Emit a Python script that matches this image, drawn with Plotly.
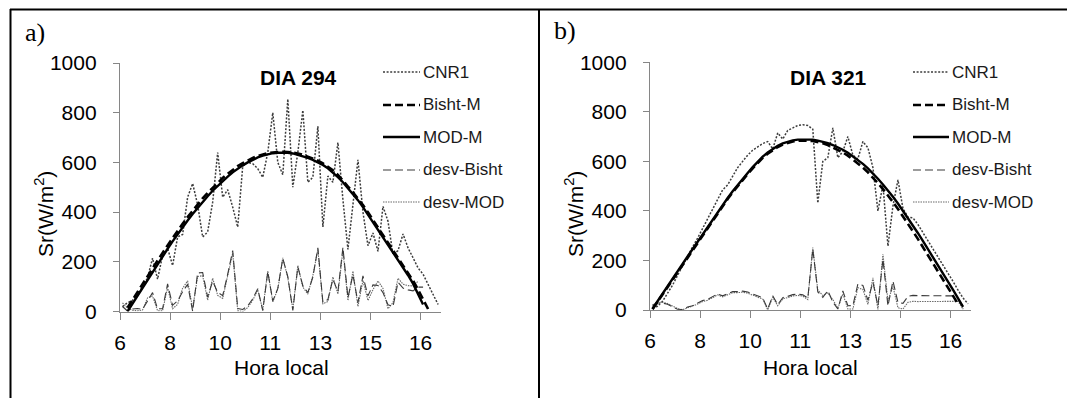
import plotly.graph_objects as go

W, H = 1067, 398

# ---------------- data ----------------
hour_ticks = ["6", "8", "10", "11", "13", "15", "16"]
tick_pos = [0, 10, 20, 30, 40, 50, 60]          # category boundaries (every 10 samples)
y_ticks = [0, 200, 400, 600, 800, 1000]

# Panel a) DIA 294  (one value per 10-min category)
cnr1_a = [20, 35, 45, 70, 100, 135, 215, 130, 225, 255,
          185, 300, 310, 460, 515, 430, 300, 320, 440, 640,
          460, 490, 420, 340, 585, 600, 595, 575, 540, 640,
          800, 600, 550, 855, 500, 640, 810, 520, 540, 745,
          340, 545, 520, 680, 450, 250, 430, 610, 400, 265,
          316, 242, 423, 363, 229, 245, 312, 256, 216, 175,
          150, 108, 70, 28]
bisht_a = [None, 15, 47, 80, 112, 144, 175, 206, 236, 266,
           296, 325, 353, 380, 406, 431, 455, 477, 498, 518,
           537, 554, 570, 585, 597, 608, 618, 626, 632, 637,
           640, 642, 643, 642, 640, 636, 631, 624, 616, 607,
           596, 583, 568, 550, 525, 503, 480, 455, 428, 399,
           369, 339, 309, 279, 249, 219, 188, 157, 124, 88,
           50, 10]
mod_a = [None, 0, 32, 65, 97, 129, 160, 192, 222, 252,
         282, 311, 339, 366, 392, 417, 441, 464, 486, 506,
         525, 543, 560, 575, 588, 600, 611, 620, 627, 633,
         637, 639, 640, 639, 636, 631, 625, 618, 610, 600,
         590, 576, 560, 541, 520, 497, 474, 448, 420, 390,
         360, 330, 300, 270, 240, 209, 178, 146, 112, 72,
         28]
desv_bisht_a = [20, 2, 10, 12, 9, 40, 76, 11, 11, 111,
                25, 43, 80, 109, 1, 155, 157, 58, 122, 77,
                64, 150, 245, 12, 8, 23, 51, 92, 3, 160,
                42, 93, 213, 140, 4, 179, 104, 76, 138, 256,
                38, 48, 130, 80, 258, 56, 148, 36, 143, 63,
                107, 105, 76, 27, 20, 118, 94, 87, 83, 98,
                98]
desv_mod_a = [35, 13, 5, 3, 6, 55, 62, 3, 3, 97,
              11, 29, 94, 123, 13, 141, 144, 46, 134, 65,
              53, 140, 235, 3, 0, 16, 45, 87, 7, 163,
              39, 90, 216, 136, 9, 185, 98, 70, 145, 250,
              31, 40, 139, 70, 247, 44, 162, 20, 125, 44,
              88, 123, 93, 11, 36, 134, 110, 104, 103, 122]

# Panel b) DIA 321
cnr1_b = [8, 15, 35, 65, 100, 140, 180, 215, 255, 290,
          330, 370, 405, 445, 485, 505, 540, 575, 600, 625,
          645, 660, 672, 680, 650, 715, 690, 725, 735, 745,
          748, 745, 730, 432, 600, 615, 735, 615, 640, 700,
          625, 610, 680, 655, 575, 400, 505, 258, 420, 525,
          410, 375, 372, 345, 312, 280, 248, 216, 183, 150,
          115, 80, 48, 25]
bisht_b = [3, 33, 63, 93, 123, 153, 183, 213, 243, 273,
           302, 332, 362, 391, 420, 448, 475, 501, 526, 549,
           572, 594, 614, 631, 646, 658, 668, 675, 680, 683,
           684, 684, 682, 678, 673, 666, 657, 647, 636, 623,
           608, 592, 575, 556, 535, 512, 488, 463, 436, 408,
           379, 348, 317, 286, 254, 222, 190, 158, 125, 91,
           57, 23]
mod_b = [5, 36, 66, 96, 126, 156, 186, 216, 246, 276,
         306, 336, 366, 395, 424, 452, 479, 505, 530, 553,
         577, 599, 619, 636, 651, 663, 673, 680, 685, 688,
         689, 689, 688, 684, 680, 674, 666, 657, 647, 635,
         621, 606, 590, 572, 552, 530, 507, 483, 457, 430,
         401, 371, 341, 310, 278, 246, 214, 182, 149, 115,
         81, 47, 13]
desv_bisht_b = [18, 28, 28, 23, 13, 3, 2, 12, 17, 28,
                38, 43, 54, 65, 57, 65, 74, 74, 76, 73,
                66, 58, 49, 4, 57, 22, 50, 55, 62, 64,
                61, 48, 246, 73, 51, 78, 32, 4, 77, 17,
                18, 105, 99, 40, 112, 17, 205, 16, 117, 31,
                27, 55, 59, 58, 58, 58, 58, 58, 59, 58,
                57, 45, 5]
desv_mod_b = [21, 31, 31, 26, 16, 6, 1, 9, 14, 24,
              34, 39, 50, 61, 53, 61, 70, 70, 72, 68,
              61, 53, 44, 1, 52, 17, 45, 50, 57, 59,
              56, 42, 252, 80, 59, 69, 42, 7, 65, 4,
              4, 90, 83, 23, 130, 2, 225, 37, 95, 9,
              4, 31, 35, 34, 34, 34, 34, 34, 35, 34,
              33, 35, 3]

series_names = ["CNR1", "Bisht-M", "MOD-M", "desv-Bisht", "desv-MOD"]
day_titles = ["DIA 294", "DIA 321"]
panel_labels = ["a)", "b)"]

# ---------------- styles ----------------
STYLE = {
    "CNR1":       dict(color="#3c3c3c", width=1.5, dash="2px,1.6px"),
    "Bisht-M":    dict(color="#000000", width=2.6, dash="8px,4px"),
    "MOD-M":      dict(color="#000000", width=2.4, dash="solid"),
    "desv-Bisht": dict(color="#3a3a3a", width=1.1, dash="8px,4px"),
    "desv-MOD":   dict(color="#6a6a6a", width=1.1, dash="1.5px,1px"),
}
FONT = "Liberation Sans, Arial, sans-serif"


def fx(px):
    return px / W


def fy(py):
    return 1 - py / H


def cat_x(vals):
    return [k + 0.5 for k in range(len(vals))]


fig = go.Figure()

panels = [
    dict(cnr1=cnr1_a, bisht=bisht_a, mod=mod_a, db=desv_bisht_a, dm=desv_mod_a,
         xax="x", yax="y", x0=120, x1=440.6, y0=311.5, y1=63,
         title_xy=(298, 77), label_xy=(23, 32), leg_x=(383, 420), xt_xy=(281, 367), yt_xy=(44, 214)),
    dict(cnr1=cnr1_b, bisht=bisht_b, mod=mod_b, db=desv_bisht_b, dm=desv_mod_b,
         xax="x2", yax="y2", x0=650, x1=970.6, y0=310, y1=62.3,
         title_xy=(828, 77), label_xy=(552, 31), leg_x=(913, 949), xt_xy=(810, 367), yt_xy=(574, 214)),
]

annotations = []
shapes = []
leg_y = [72, 105, 137, 170, 202]

for p_i, p in enumerate(panels):
    order = [("desv-MOD", p["dm"]), ("desv-Bisht", p["db"]), ("CNR1", p["cnr1"]),
             ("Bisht-M", p["bisht"]), ("MOD-M", p["mod"])]
    for name, vals in order:
        fig.add_trace(go.Scatter(
            x=cat_x(vals), y=vals, mode="lines", name=name,
            line=STYLE[name], xaxis=p["xax"], yaxis=p["yax"],
            showlegend=False, connectgaps=False, hoverinfo="skip"))

    # manual legend
    for name, ly in zip(series_names, leg_y):
        st = STYLE[name]
        shapes.append(dict(type="line", xref="paper", yref="paper",
                           x0=fx(p["leg_x"][0]), x1=fx(p["leg_x"][1]),
                           y0=fy(ly), y1=fy(ly),
                           line=dict(color=st["color"], width=st["width"], dash=st["dash"])))
        annotations.append(dict(text=name, xref="paper", yref="paper",
                                x=fx(p["leg_x"][1] + 1), y=fy(ly), xanchor="left", yanchor="middle",
                                showarrow=False, font=dict(family=FONT, size=17, color="#1a1a1a")))

    annotations.append(dict(text="<b>" + day_titles[p_i] + "</b>", xref="paper", yref="paper",
                            x=fx(p["title_xy"][0]), y=fy(p["title_xy"][1]),
                            xanchor="center", yanchor="middle", showarrow=False,
                            font=dict(family=FONT, size=21, color="#000000")))
    annotations.append(dict(text=panel_labels[p_i], xref="paper", yref="paper",
                            x=fx(p["label_xy"][0]), y=fy(p["label_xy"][1]),
                            xanchor="left", yanchor="middle", showarrow=False,
                            font=dict(family="Liberation Serif, Times New Roman, serif", size=26, color="#000000")))
    annotations.append(dict(text="Hora local", xref="paper", yref="paper",
                            x=fx(p["xt_xy"][0]), y=fy(p["xt_xy"][1]),
                            xanchor="center", yanchor="middle", showarrow=False,
                            font=dict(family=FONT, size=21, color="#000000")))
    annotations.append(dict(text="Sr(W/m<sup>2</sup>)", xref="paper", yref="paper",
                            x=fx(p["yt_xy"][0]), y=fy(p["yt_xy"][1]), textangle=-90,
                            xanchor="center", yanchor="middle", showarrow=False,
                            font=dict(family=FONT, size=21, color="#000000")))

    axis_common = dict(showline=True, linecolor="#868686", linewidth=1.3, ticks="outside",
                       tickcolor="#868686", tickwidth=1.3, showgrid=False, zeroline=False,
                       automargin=False, title=dict(text=""),
                       tickfont=dict(family=FONT, size=21, color="#000000"), fixedrange=True)
    xkey = "xaxis" if p["xax"] == "x" else "xaxis2"
    ykey = "yaxis" if p["yax"] == "y" else "yaxis2"
    fig.update_layout(**{
        xkey: dict(domain=[fx(p["x0"]), fx(p["x1"])], range=[0, 64], anchor=p["yax"],
                   tickmode="array", tickvals=tick_pos, ticktext=hour_ticks, ticklen=7,
                   ticklabelstandoff=5, **axis_common),
        ykey: dict(domain=[fy(p["y0"]), fy(p["y1"])], range=[0, 1000], anchor=p["xax"],
                   tickmode="array", tickvals=y_ticks, ticklen=6, ticklabelstandoff=12,
                   **axis_common),
    })

# table borders
border = dict(color="#000000", width=2)
shapes += [
    dict(type="line", xref="paper", yref="paper", x0=fx(10), x1=1, y0=fy(9.5), y1=fy(9.5), line=border),
    dict(type="line", xref="paper", yref="paper", x0=fx(10.5), x1=fx(10.5), y0=fy(9), y1=0, line=border),
    dict(type="line", xref="paper", yref="paper", x0=fx(539), x1=fx(539), y0=fy(9), y1=0, line=border),
]

fig.update_layout(width=W, height=H, autosize=False,
                  margin=dict(l=0, r=0, t=0, b=0, pad=0, autoexpand=False),
                  paper_bgcolor="white", plot_bgcolor="white", showlegend=False,
                  annotations=annotations, shapes=shapes)

fig.write_html("out.html", config={"displayModeBar": False, "responsive": False},
               post_script="document.body.style.margin='0px';document.body.style.overflow='hidden';")
